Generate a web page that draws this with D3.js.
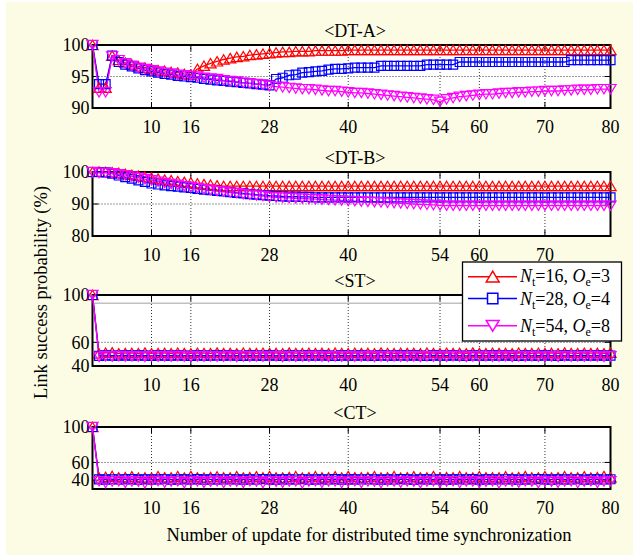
<!DOCTYPE html>
<html><head><meta charset="utf-8">
<script src="https://cdn.jsdelivr.net/npm/d3@7"></script>
<style>
body{margin:0;background:#fff}
svg{display:block}
text{font-family:"Liberation Serif","Times New Roman",serif;fill:#000}
</style>
</head><body>
<svg id="c" width="635" height="557"></svg>
<script>
// ---------------- DATA ----------------
const panelTitles = ["<DT-A>", "<DT-B>", "<ST>", "<CT>"];
const xTickValues = [10, 16, 28, 40, 54, 60, 70, 80];
const xTickValuesB = [10, 16, 28, 40, 54, 60, 70];
const yTicksA = [90, 95, 100];
const yTicksB = [80, 90, 100];
const yTicksST = [40, 60, 100];
const yTicksCT = [40, 60, 100];
const legendN = ["16", "28", "54"];
const legendO = ["3", "4", "8"];
const xLabel = "Number of update for distributed time synchronization";
const yLabel = "Link success probability (%)";

const dtaN16 = [
100, 93.2, 93.2, 98.3, 97.6, 97.2, 96.9, 96.6, 96.4, 96.2,
96.0, 95.9, 95.7, 95.6, 95.4, 95.3, 96.2, 96.7, 97.1, 97.4,
97.7, 97.9, 98.1, 98.2, 98.4, 98.5, 98.6, 98.7, 98.8, 98.9,
98.9, 99.0, 99.0, 99.0, 99.1, 99.1, 99.1, 99.1, 99.1, 99.2,
99.2, 99.2, 99.2, 99.2, 99.2, 99.2, 99.2, 99.2, 99.2, 99.2,
99.2, 99.2, 99.2, 99.2, 99.2, 99.2, 99.2, 99.2, 99.2, 99.2,
99.2, 99.2, 99.2, 99.2, 99.2, 99.2, 99.2, 99.2, 99.2, 99.2,
99.2, 99.2, 99.2, 99.2, 99.2, 99.2, 99.2, 99.2, 99.2, 99.2];
const dtaN28 = [
100, 93.8, 93.8, 98.3, 97.3, 96.9, 96.6, 96.3, 96.0, 95.8,
95.6, 95.4, 95.3, 95.1, 95.0, 94.9, 94.8, 94.6, 94.5, 94.4,
94.3, 94.2, 94.1, 94.0, 93.9, 93.8, 93.7, 93.6, 94.6, 94.8,
95.2, 95.3, 95.6, 95.7, 95.8, 95.9, 96.1, 96.2, 96.2, 96.3,
96.4, 96.4, 96.4, 96.4, 96.7, 96.7, 96.7, 96.7, 96.7, 96.7,
96.7, 96.9, 96.9, 96.9, 96.9, 96.9, 97.3, 97.3, 97.3, 97.3,
97.3, 97.3, 97.3, 97.3, 97.3, 97.3, 97.3, 97.3, 97.3, 97.3,
97.3, 97.3, 97.3, 97.6, 97.6, 97.6, 97.6, 97.6, 97.6, 97.6];
const dtaN54 = [
100, 92.5, 92.5, 98.2, 97.6, 97.1, 96.7, 96.4, 96.2, 96.0,
95.8, 95.6, 95.5, 95.3, 95.2, 95.1, 95.0, 94.8, 94.7, 94.6,
94.4, 94.3, 94.2, 94.0, 93.9, 93.8, 93.7, 93.5, 93.4, 93.3,
93.2, 93.1, 93.0, 93.0, 92.9, 92.8, 92.7, 92.7, 92.6, 92.5,
92.4, 92.4, 92.3, 92.2, 92.1, 92.0, 91.9, 91.8, 91.7, 91.6,
91.5, 91.4, 91.3, 91.0, 91.4, 91.6, 91.8, 91.9, 92.0, 92.1,
92.2, 92.2, 92.3, 92.4, 92.4, 92.5, 92.5, 92.6, 92.6, 92.7,
92.7, 92.7, 92.8, 92.8, 92.9, 92.9, 92.9, 93.0, 93.0, 93.0];

const dtbN16 = [
100, 100.1, 100.0, 99.9, 99.7, 99.4, 99.1, 98.8, 98.5, 98.2,
97.9, 97.6, 97.4, 97.1, 96.9, 96.7, 96.4, 96.2, 96.0, 95.8,
95.6, 95.6, 95.6, 95.6, 95.6, 95.6, 95.6, 95.6, 95.6, 95.6,
95.6, 95.6, 95.6, 95.6, 95.6, 95.6, 95.6, 95.6, 95.6, 95.6,
95.6, 95.6, 95.6, 95.6, 95.6, 95.6, 95.6, 95.6, 95.6, 95.6,
95.6, 95.6, 95.6, 95.6, 95.6, 95.6, 95.6, 95.6, 95.6, 95.6,
95.6, 95.6, 95.6, 95.6, 95.6, 95.6, 95.6, 95.6, 95.6, 95.6,
95.6, 95.6, 95.6, 95.6, 95.6, 95.6, 95.6, 95.6, 95.6, 95.6];
const dtbN28 = [
100, 100.0, 99.9, 99.5, 98.9, 98.4, 97.9, 97.4, 96.9, 96.4,
96.1, 95.8, 95.6, 95.4, 95.2, 95.0, 94.7, 94.5, 94.3, 94.1,
93.9, 93.7, 93.5, 93.3, 93.1, 92.9, 92.8, 92.6, 92.5, 92.4,
92.3, 92.3, 92.2, 92.2, 92.1, 92.1, 92.1, 92.1, 92.1, 92.1,
92.1, 92.1, 92.1, 92.1, 92.1, 92.1, 92.1, 92.1, 92.1, 92.1,
92.1, 92.1, 92.1, 92.1, 92.1, 92.1, 92.1, 92.1, 92.1, 92.1,
92.1, 92.1, 92.1, 92.1, 92.1, 92.1, 92.1, 92.1, 92.1, 92.1,
92.1, 92.1, 92.1, 92.1, 92.1, 92.1, 92.1, 92.1, 92.1, 92.1];
const dtbN54 = [
100, 99.7, 99.8, 99.6, 99.3, 99.0, 98.6, 98.2, 97.8, 97.4,
97.0, 96.6, 96.3, 96.0, 95.6, 95.3, 95.0, 94.7, 94.4, 94.1,
93.9, 93.6, 93.4, 93.1, 92.9, 92.7, 92.5, 92.2, 92.1, 92.0,
91.9, 91.8, 91.7, 91.6, 91.5, 91.4, 91.3, 91.2, 91.1, 91.0,
90.9, 90.8, 90.7, 90.6, 90.5, 90.4, 90.3, 90.2, 90.1, 90.0,
89.9, 89.8, 89.7, 89.6, 89.5, 89.5, 89.5, 89.5, 89.5, 89.5,
89.5, 89.5, 89.5, 89.5, 89.5, 89.5, 89.5, 89.5, 89.5, 89.5,
89.5, 89.5, 89.5, 89.5, 89.5, 89.5, 89.5, 89.5, 89.5, 89.5];

const stN16 = [
100, 50.5, 51.2, 51.5, 50.6, 50.8, 51.0, 50.7, 51.3, 50.6,
50.9, 51.0, 50.7, 51.2, 50.8, 50.6, 51.1, 50.9, 50.7, 51.3,
50.8, 51.0, 50.6, 51.2, 50.9, 50.7, 51.1, 50.8, 51.0, 50.6,
51.3, 50.9, 50.7, 51.1, 50.8, 51.0, 50.6, 51.2, 50.9, 50.7,
51.1, 50.8, 51.0, 50.6, 51.3, 50.9, 50.7, 51.1, 50.8, 51.0,
50.6, 51.2, 50.9, 50.7, 51.1, 50.8, 51.0, 50.6, 51.3, 50.9,
50.7, 51.1, 50.8, 51.0, 50.6, 51.2, 50.9, 50.7, 51.1, 50.8,
51.0, 50.6, 51.3, 50.9, 50.7, 51.1, 50.8, 51.0, 50.6, 51.2];
const stN28 = [
100, 48.6, 48.9, 48.7, 48.8, 49.0, 48.7, 48.9, 48.8, 48.6,
48.9, 48.8, 48.7, 49.0, 48.8, 48.6, 48.9, 48.7, 48.8, 49.0,
48.7, 48.9, 48.8, 48.6, 48.9, 48.8, 48.7, 49.0, 48.8, 48.6,
48.9, 48.7, 48.8, 49.0, 48.7, 48.9, 48.8, 48.6, 48.9, 48.8,
48.7, 49.0, 48.8, 48.6, 48.9, 48.7, 48.8, 49.0, 48.7, 48.9,
48.8, 48.6, 48.9, 48.8, 48.7, 49.0, 48.8, 48.6, 48.9, 48.7,
48.8, 49.0, 48.7, 48.9, 48.8, 48.6, 48.9, 48.8, 48.7, 49.0,
48.8, 48.6, 48.9, 48.7, 48.8, 49.0, 48.7, 48.9, 48.8, 48.7];
const stN54 = [
100, 47.8, 48.3, 48.0, 48.4, 47.9, 48.2, 48.1, 47.8, 48.3,
48.0, 48.2, 47.9, 48.4, 48.1, 47.8, 48.2, 48.0, 48.3, 47.9,
48.1, 48.4, 47.8, 48.2, 48.0, 48.3, 47.9, 48.1, 48.2, 47.8,
48.3, 48.0, 48.2, 47.9, 48.4, 48.1, 47.8, 48.2, 48.0, 48.3,
47.9, 48.1, 48.4, 47.8, 48.2, 48.0, 48.3, 47.9, 48.1, 48.2,
47.8, 48.3, 48.0, 48.2, 47.9, 48.4, 48.1, 47.8, 48.2, 48.0,
48.3, 47.9, 48.1, 48.4, 47.8, 48.2, 48.0, 48.3, 47.9, 48.1,
48.2, 47.8, 48.3, 48.0, 48.2, 47.9, 48.4, 48.1, 47.8, 48.2];

const ctN16 = [
100, 42.8, 43.5, 44.6, 42.9, 43.2, 44.2, 42.7, 43.0, 42.8,
44.4, 43.1, 42.9, 44.3, 42.8, 44.5, 43.0, 42.7, 43.3, 44.1,
42.9, 43.0, 44.4, 42.8, 43.2, 44.2, 42.9, 44.5, 43.0, 42.8,
43.3, 44.3, 42.7, 43.1, 44.4, 42.9, 43.0, 44.2, 42.8, 44.5,
43.1, 42.9, 43.2, 44.3, 42.8, 43.0, 44.4, 42.7, 43.1, 44.2,
42.9, 43.0, 44.5, 42.8, 43.2, 42.9, 44.3, 43.0, 42.8, 44.4,
43.1, 42.9, 43.0, 44.2, 42.8, 43.2, 44.5, 42.9, 43.0, 44.3,
42.8, 43.1, 44.4, 42.9, 43.0, 44.2, 42.8, 43.2, 44.5, 42.9];
const ctN28 = [
100, 40.9, 40.6, 41.0, 40.7, 40.8, 41.1, 40.6, 40.9, 40.7,
40.8, 41.0, 40.6, 40.9, 40.8, 40.7, 41.1, 40.6, 40.8, 40.9,
40.7, 41.0, 40.8, 40.6, 40.9, 40.7, 41.1, 40.8, 40.6, 40.9,
40.8, 40.7, 41.0, 40.6, 40.9, 40.8, 40.7, 41.1, 40.6, 40.8,
40.9, 40.7, 41.0, 40.8, 40.6, 40.9, 40.7, 41.1, 40.8, 40.6,
40.9, 40.8, 40.7, 41.0, 40.6, 40.9, 40.8, 40.7, 41.1, 40.6,
40.8, 40.9, 40.7, 41.0, 40.8, 40.6, 40.9, 40.7, 41.1, 40.8,
40.6, 40.9, 40.8, 40.7, 41.0, 40.6, 40.9, 40.8, 40.7, 41.0];
const ctN54 = [
100, 38.9, 36.8, 38.6, 39.0, 37.0, 38.7, 38.4, 36.6, 38.8,
39.1, 37.2, 38.5, 38.9, 36.7, 38.6, 38.8, 37.1, 38.4, 39.0,
36.9, 38.7, 38.5, 37.0, 38.9, 38.6, 36.8, 38.8, 38.4, 37.2,
38.7, 39.0, 36.6, 38.5, 38.9, 37.1, 38.6, 38.8, 36.9, 38.4,
39.0, 37.0, 38.7, 38.5, 36.8, 38.9, 38.6, 37.2, 38.8, 38.4,
36.7, 38.7, 39.0, 37.1, 38.5, 38.9, 36.9, 38.6, 38.8, 37.0,
38.4, 39.0, 36.6, 38.7, 38.5, 37.2, 38.9, 38.6, 36.8, 38.8,
38.4, 37.1, 38.7, 39.0, 36.9, 38.5, 38.9, 37.0, 38.6, 38.8];

// ---------------- STYLE / LAYOUT ----------------
const colors = ["#ff0000", "#0000ff", "#ff00ff"];
const markerPaths = [
  "M0,-4.8L5.6,4.6L-5.6,4.6Z",
  "M-4.5,-4.5H4.5V4.5H-4.5Z",
  "M0,4.8L5.6,-4.6L-5.6,-4.6Z"
];
const L = 92.5, R = 610.5;
const panels = [
  {title: panelTitles[0], top: 45, bottom: 108, domain: [90, 100], yTicks: yTicksA, grid: [95], xLabels: xTickValues, series: [dtaN16, dtaN28, dtaN54]},
  {title: panelTitles[1], top: 172, bottom: 236, domain: [80, 100], yTicks: yTicksB, grid: [90], xLabels: xTickValuesB, series: [dtbN16, dtbN28, dtbN54]},
  {title: panelTitles[2], top: 295, bottom: 366, domain: [40, 100], yTicks: yTicksST, grid: [60], gray: 93, xLabels: xTickValues, series: [stN16, stN28, stN54]},
  {title: panelTitles[3], top: 427, bottom: 489, domain: [30, 100], yTicks: yTicksCT, grid: [60], xLabels: xTickValues, series: [ctN16, ctN28, ctN54]}
];

const svg = d3.select("#c");
svg.append("rect").attr("x", 6).attr("y", 2).attr("width", 627).attr("height", 553).attr("fill", "#fcfce4");

const x = d3.scaleLinear().domain([1, 80]).range([L, R]);

panels.forEach(p => {
  const y = d3.scaleLinear().domain(p.domain).range([p.bottom, p.top]);
  const g = svg.append("g");
  g.append("rect").attr("x", L).attr("y", p.top).attr("width", R - L).attr("height", p.bottom - p.top).attr("fill", "#fff");
  // vertical grid
  g.selectAll(".vg").data(xTickValues.filter(v => v < 80)).enter().append("line")
    .attr("x1", d => x(d)).attr("x2", d => x(d)).attr("y1", p.top).attr("y2", p.bottom)
    .attr("stroke", "#000").attr("stroke-width", 0.8).attr("stroke-dasharray", "1,2");
  // horizontal grid
  g.selectAll(".hg").data(p.grid).enter().append("line")
    .attr("x1", L).attr("x2", R).attr("y1", d => y(d)).attr("y2", d => y(d))
    .attr("stroke", "#000").attr("stroke-width", 0.8).attr("stroke-dasharray", "1,2");
  if (p.gray !== undefined) {
    g.append("line").attr("x1", L).attr("x2", R).attr("y1", y(p.gray)).attr("y2", y(p.gray))
      .attr("stroke", "#c0c0c0").attr("stroke-width", 1.5);
  }
  // ticks
  xTickValues.forEach(v => {
    g.append("line").attr("x1", x(v)).attr("x2", x(v)).attr("y1", p.bottom).attr("y2", p.bottom - 6).attr("stroke", "#000").attr("stroke-width", 1);
    g.append("line").attr("x1", x(v)).attr("x2", x(v)).attr("y1", p.top).attr("y2", p.top + 6).attr("stroke", "#000").attr("stroke-width", 1);
  });
  p.yTicks.forEach(v => {
    g.append("line").attr("x1", L).attr("x2", L + 6).attr("y1", y(v)).attr("y2", y(v)).attr("stroke", "#000").attr("stroke-width", 1);
    g.append("line").attr("x1", R).attr("x2", R - 6).attr("y1", y(v)).attr("y2", y(v)).attr("stroke", "#000").attr("stroke-width", 1);
  });
  // frame
  g.append("rect").attr("x", L).attr("y", p.top).attr("width", R - L).attr("height", p.bottom - p.top)
    .attr("fill", "none").attr("stroke", "#000").attr("stroke-width", 2);
  // tick labels
  g.selectAll(".yl").data(p.yTicks).enter().append("text")
    .attr("x", L - 3).attr("y", d => y(d)).attr("dy", "0.35em").attr("text-anchor", "end")
    .attr("font-size", 18).text(d => d);
  g.selectAll(".xl").data(p.xLabels).enter().append("text")
    .attr("x", d => x(d)).attr("y", p.bottom + 24.5).attr("text-anchor", "middle")
    .attr("font-size", 18).text(d => d);
  // title
  g.append("text").attr("x", 355).attr("y", p.top - 8.5).attr("text-anchor", "middle").attr("font-size", 18).text(p.title);
  // series
  const line = d3.line().x((d, i) => x(i + 1)).y(d => y(d));
  p.series.forEach((s, si) => {
    g.append("path").datum(s).attr("d", line).attr("fill", "none").attr("stroke", colors[si]).attr("stroke-width", 1.3);
  });
  p.series.forEach((s, si) => {
    g.selectAll(null).data(s).enter().append("path")
      .attr("transform", (d, i) => `translate(${x(i + 1)},${y(d)})`)
      .attr("d", markerPaths[si]).attr("fill", "none").attr("stroke", colors[si]).attr("stroke-width", 1.2);
  });
});

// legend
const lg = svg.append("g");
lg.append("rect").attr("x", 462.5).attr("y", 262).attr("width", 159).attr("height", 79)
  .attr("fill", "#fff").attr("stroke", "#000").attr("stroke-width", 1.3);
const rowY = [276.7, 298.5, 325.7];
const textY = [281.7, 305, 331.7];
legendN.forEach((n, i) => {
  lg.append("line").attr("x1", 468).attr("x2", 517).attr("y1", rowY[i]).attr("y2", rowY[i])
    .attr("stroke", colors[i]).attr("stroke-width", 1.5);
  lg.append("path").attr("transform", `translate(492.7,${rowY[i]}) scale(1.15)`).attr("d", markerPaths[i])
    .attr("fill", "#fff").attr("stroke", colors[i]).attr("stroke-width", 1.3);
  const t = lg.append("text").attr("x", 520).attr("y", textY[i]).attr("font-size", 18);
  t.append("tspan").attr("font-style", "italic").text("N");
  t.append("tspan").attr("font-size", 12).attr("dy", 4).text("t");
  t.append("tspan").attr("dy", -4).text("=" + n + ", ");
  t.append("tspan").attr("font-style", "italic").text("O");
  t.append("tspan").attr("font-size", 12).attr("dy", 4).text("e");
  t.append("tspan").attr("dy", -4).text("=" + legendO[i]);
});

// axis labels
svg.append("text").attr("x", 369).attr("y", 541).attr("text-anchor", "middle").attr("font-size", 18.5).text(xLabel);
svg.append("text").attr("transform", "translate(46.5,292.5) rotate(-90)").attr("text-anchor", "middle").attr("font-size", 18.5).text(yLabel);
</script>
</body></html>
